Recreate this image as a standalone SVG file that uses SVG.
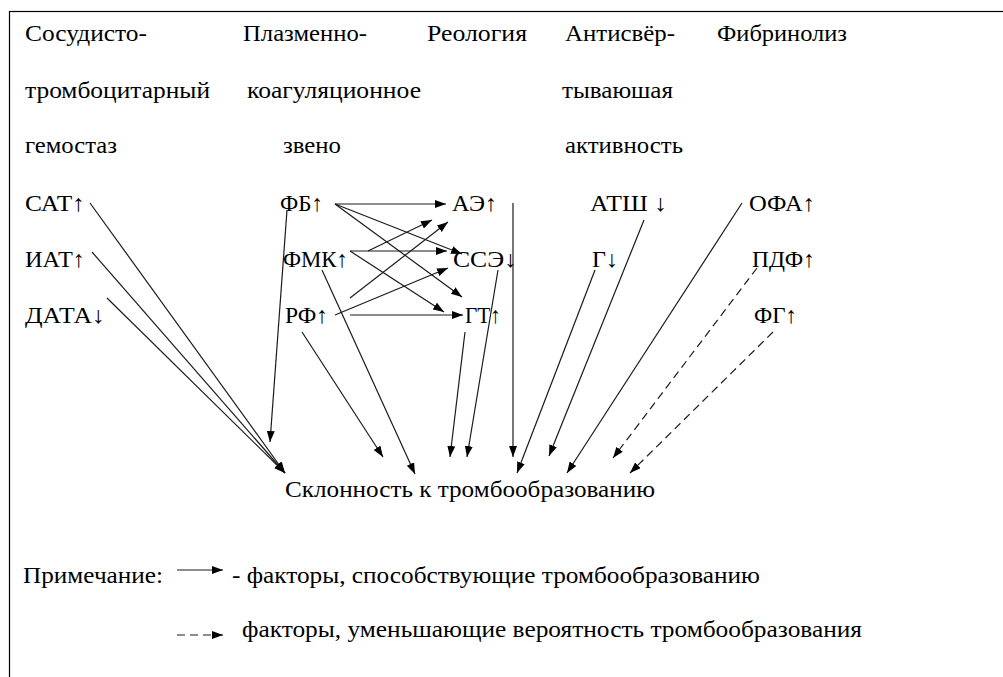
<svg xmlns="http://www.w3.org/2000/svg" width="1003" height="677" viewBox="0 0 1003 677">
<defs>
<marker id="ah" markerWidth="12" markerHeight="9" refX="11" refY="4" orient="auto" markerUnits="userSpaceOnUse">
<path d="M0,0 L11,4 L0,8 z" fill="#000"/>
</marker>
<style>
.c line{stroke:#1a1a1a;stroke-width:1.2;fill:none;marker-end:url(#ah)}
.c line.d{stroke-dasharray:8,5}
</style>
</defs>
<rect x="0" y="0" width="1003" height="677" fill="#fff"/>
<rect x="9.5" y="11.5" width="1010" height="700" fill="none" stroke="#000" stroke-width="1.2"/>
<g font-family="Liberation Serif, Times New Roman, serif" font-size="23" fill="#000">
<g id="headers">
<text x="25" y="41" textLength="122" lengthAdjust="spacingAndGlyphs">Сосудисто-</text>
<text x="25" y="98" textLength="185" lengthAdjust="spacingAndGlyphs">тромбоцитарный</text>
<text x="25" y="153" textLength="92" lengthAdjust="spacingAndGlyphs">гемостаз</text>
<text x="243" y="41" textLength="124" lengthAdjust="spacingAndGlyphs">Плазменно-</text>
<text x="247" y="98" textLength="174" lengthAdjust="spacingAndGlyphs">коагуляционное</text>
<text x="283" y="153" textLength="58" lengthAdjust="spacingAndGlyphs">звено</text>
<text x="427" y="41" textLength="100" lengthAdjust="spacingAndGlyphs">Реология</text>
<text x="565" y="41" textLength="110" lengthAdjust="spacingAndGlyphs">Антисвёр-</text>
<text x="562" y="98" textLength="111" lengthAdjust="spacingAndGlyphs">тываюшая</text>
<text x="565" y="153" textLength="118" lengthAdjust="spacingAndGlyphs">активность</text>
<text x="717" y="41" textLength="130" lengthAdjust="spacingAndGlyphs">Фибринолиз</text>
</g>
<g id="n-sat"><text x="25" y="211" textLength="60" lengthAdjust="spacingAndGlyphs">САТ↑</text></g>
<g id="n-iat"><text x="25" y="267" textLength="60" lengthAdjust="spacingAndGlyphs">ИАТ↑</text></g>
<g id="n-data"><text x="25" y="323" textLength="80" lengthAdjust="spacingAndGlyphs">ДАТА↓</text></g>
<g id="n-fb"><text x="280" y="211" textLength="43" lengthAdjust="spacingAndGlyphs">ФБ↑</text></g>
<g id="n-fmk"><text x="283" y="267" textLength="65" lengthAdjust="spacingAndGlyphs">ФМК↑</text></g>
<g id="n-rf"><text x="285" y="323" textLength="43" lengthAdjust="spacingAndGlyphs">РФ↑</text></g>
<g id="n-ae"><text x="452" y="211" textLength="45" lengthAdjust="spacingAndGlyphs">АЭ↑</text></g>
<g id="n-sse"><text x="453" y="267" textLength="64" lengthAdjust="spacingAndGlyphs">ССЭ↓</text></g>
<g id="n-gt"><text x="465" y="323" textLength="36" lengthAdjust="spacingAndGlyphs">ГТ↑</text></g>
<g id="n-atsh"><text x="590" y="211" textLength="77" lengthAdjust="spacingAndGlyphs">АТШ ↓</text></g>
<g id="n-g"><text x="592" y="267" textLength="26" lengthAdjust="spacingAndGlyphs">Г↓</text></g>
<g id="n-ofa"><text x="749" y="211" textLength="66" lengthAdjust="spacingAndGlyphs">ОФА↑</text></g>
<g id="n-pdf"><text x="752" y="267" textLength="63" lengthAdjust="spacingAndGlyphs">ПДФ↑</text></g>
<g id="n-fg"><text x="754" y="323" textLength="43" lengthAdjust="spacingAndGlyphs">ФГ↑</text></g>
<g id="n-target"><text x="285" y="497" textLength="370" lengthAdjust="spacingAndGlyphs">Склонность к тромбообразованию</text></g>
<g id="legend">
<text x="23" y="583" textLength="140" lengthAdjust="spacingAndGlyphs">Примечание:</text>
<text x="232" y="583" textLength="528" lengthAdjust="spacingAndGlyphs">- факторы, способствующие тромбообразованию</text>
<text x="242" y="637" textLength="620" lengthAdjust="spacingAndGlyphs">факторы, уменьшающие вероятность тромбообразования</text>
</g>
</g>
<g class="c" id="connectors">
<line x1="90" y1="203" x2="285" y2="473"/>
<line x1="92" y1="252" x2="285" y2="473"/>
<line x1="107" y1="298" x2="285" y2="473"/>
<line x1="287" y1="210" x2="270" y2="442"/>
<line x1="302" y1="332" x2="383" y2="457"/>
<line x1="322" y1="270" x2="415" y2="474"/>
<line x1="465" y1="332" x2="450" y2="457"/>
<line x1="498" y1="270" x2="467" y2="457"/>
<line x1="513" y1="203" x2="513" y2="457"/>
<line x1="595" y1="270" x2="517" y2="473"/>
<line x1="644" y1="220" x2="549" y2="456"/>
<line x1="742" y1="203" x2="567" y2="473"/>
<line class="d" x1="757" y1="268" x2="613" y2="458"/>
<line class="d" x1="773" y1="332" x2="630" y2="473"/>
<line x1="335" y1="204" x2="446" y2="204"/>
<line x1="335" y1="204" x2="462" y2="254"/>
<line x1="335" y1="204" x2="462" y2="297"/>
<line x1="350" y1="251" x2="447" y2="251"/>
<line x1="368" y1="251" x2="432" y2="220"/>
<line x1="350" y1="251" x2="444" y2="312"/>
<line x1="350" y1="298" x2="448" y2="222"/>
<line x1="335" y1="315" x2="448" y2="268"/>
<line x1="350" y1="315" x2="463" y2="315"/>
<line x1="177" y1="570" x2="223" y2="570"/>
<line class="d" x1="177" y1="635" x2="223" y2="635"/>
</g>
</svg>
